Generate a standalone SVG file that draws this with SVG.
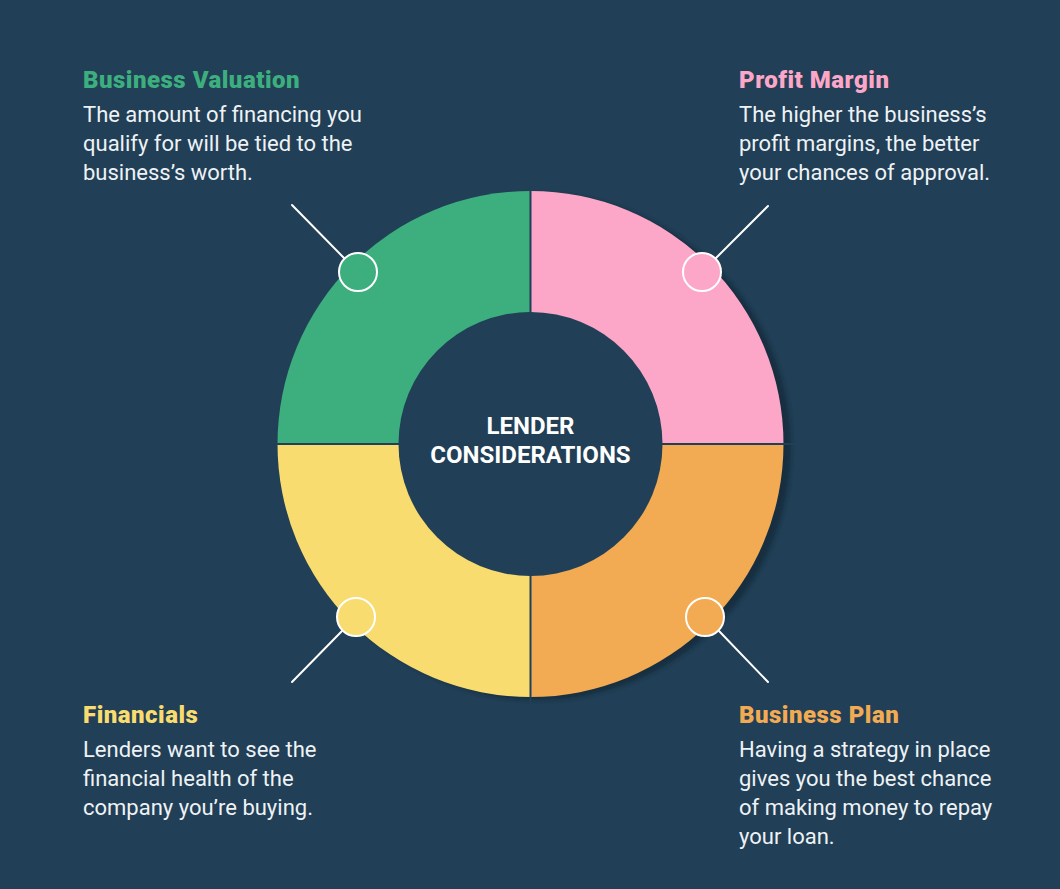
<svg xmlns="http://www.w3.org/2000/svg" width="1060" height="889" viewBox="0 0 1060 889">
  <defs>
    <filter id="blur" x="-10%" y="-10%" width="120%" height="120%">
      <feGaussianBlur stdDeviation="2"/>
    </filter>
  </defs>
  <style>
    .title { font-family: Roboto, "Liberation Sans", sans-serif; font-weight: 900; font-size: 24px; letter-spacing: 0.5px; }
    .body { font-family: Roboto, "Liberation Sans", sans-serif; font-weight: 400; font-size: 22px; fill: #eef2f5; }
    .center { font-family: Roboto, "Liberation Sans", sans-serif; font-weight: 700; font-size: 24px; fill: #ffffff; text-anchor: middle; }
    .marker { stroke: #ffffff; stroke-width: 2; }
    .lead { stroke: #ffffff; stroke-width: 2; stroke-linecap: round; fill: none; }
  </style>
  <rect x="0" y="0" width="1060" height="889" fill="#213f56"/>

  <circle cx="538" cy="447" r="253" fill="#172e40" filter="url(#blur)"/>

  <g id="business-valuation">
    <path d="M530.5,444 L277.5,444 A253,253 0 0 1 530.5,191 Z" fill="#3daf7e"/>
    <circle class="marker" cx="358" cy="272" r="19" fill="#3daf7e"/>
    <text class="title" x="83" y="88" fill="#3daf7e">Business Valuation</text>
    <text class="body" x="83" y="122">The amount of financing you</text>
    <text class="body" x="83" y="151">qualify for will be tied to the</text>
    <text class="body" x="83" y="180">business’s worth.</text>
  </g>

  <g id="profit-margin">
    <path d="M530.5,444 L530.5,191 A253,253 0 0 1 783.5,444 Z" fill="#fda7c8"/>
    <circle class="marker" cx="702" cy="272" r="19" fill="#fda7c8"/>
    <text class="title" x="739" y="88" fill="#fda7c8">Profit Margin</text>
    <text class="body" x="739" y="122">The higher the business’s</text>
    <text class="body" x="739" y="151">profit margins, the better</text>
    <text class="body" x="739" y="180">your chances of approval.</text>
  </g>

  <g id="business-plan">
    <path d="M530.5,444 L783.5,444 A253,253 0 0 1 530.5,697 Z" fill="#f2ab52"/>
    <circle class="marker" cx="705" cy="617" r="19" fill="#f2ab52"/>
    <text class="title" x="739" y="723" fill="#f2ab52">Business Plan</text>
    <text class="body" x="739" y="757">Having a strategy in place</text>
    <text class="body" x="739" y="786">gives you the best chance</text>
    <text class="body" x="739" y="815">of making money to repay</text>
    <text class="body" x="739" y="844">your loan.</text>
  </g>

  <g id="financials">
    <path d="M530.5,444 L530.5,697 A253,253 0 0 1 277.5,444 Z" fill="#f9dc6f"/>
    <circle class="marker" cx="356" cy="617" r="19" fill="#f9dc6f"/>
    <text class="title" x="83" y="723" fill="#f9dc6f">Financials</text>
    <text class="body" x="83" y="757">Lenders want to see the</text>
    <text class="body" x="83" y="786">financial health of the</text>
    <text class="body" x="83" y="815">company you’re buying.</text>
  </g>

  <g id="dividers">
    <line x1="530.5" y1="185" x2="530.5" y2="705" stroke="#213f56" stroke-width="2"/>
    <line x1="270" y1="444" x2="800" y2="444" stroke="#213f56" stroke-width="2"/>
  </g>

  <g id="lender-considerations">
    <circle cx="530.5" cy="444" r="132" fill="#213f56"/>
    <text class="center" x="530.5" y="434">LENDER</text>
    <text class="center" x="530.5" y="463">CONSIDERATIONS</text>
  </g>

  <g id="connectors">
    <line class="lead" x1="292" y1="205" x2="344" y2="258"/>
    <line class="lead" x1="768" y1="206" x2="716" y2="258"/>
    <line class="lead" x1="292" y1="682" x2="342" y2="631"/>
    <line class="lead" x1="768" y1="682" x2="719" y2="631"/>
  </g>
</svg>
